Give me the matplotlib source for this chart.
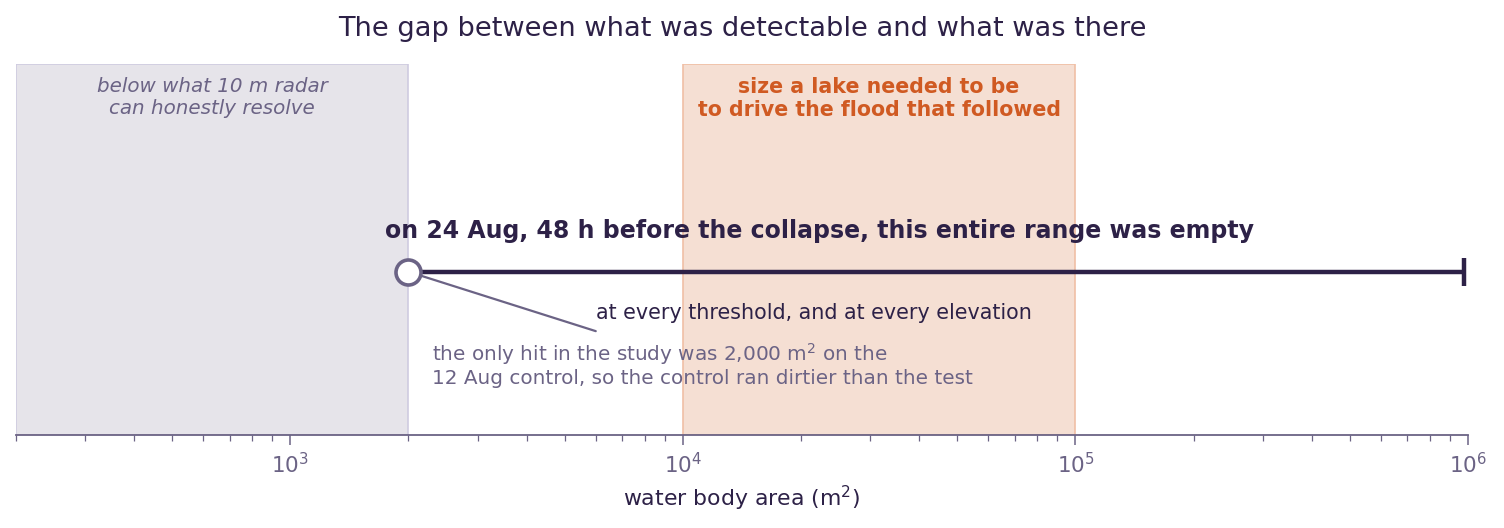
import numpy as np
import matplotlib
matplotlib.use('Agg')
import matplotlib.pyplot as plt

# data
x_limits = [200, 1e6]
below_radar = [200, 2000]          # what 10 m radar can resolve
lake_needed = [1e4, 1e5]           # size needed to drive the flood
empty_range = [2000, 9.8e5]        # empty on 24 Aug
only_hit = 2000                    # 12 Aug control hit

dark = '#2d2147'
grey = '#6b6385'
orange = '#d05a22'

fig = plt.figure(figsize=(15.04, 5.28), dpi=100)
ax = fig.add_axes([0.0106, 0.176, 0.9654, 0.703])
ax.set_xscale('log')
ax.set_xlim(x_limits)
ax.set_ylim(0, 1)

# shaded bands
ax.axvspan(below_radar[0], below_radar[1], facecolor='#e6e4ea', edgecolor='#cfcbe0', lw=1.2, zorder=0)
ax.axvspan(lake_needed[0], lake_needed[1], facecolor='#f5dfd3', edgecolor='#f0bfa5', lw=1.2, zorder=0)

ax.text(np.sqrt(below_radar[0] * below_radar[1]), 0.965, 'below what 10 m radar\ncan honestly resolve',
        ha='center', va='top', fontsize=14.3, style='italic', color=grey, linespacing=1.2)
ax.text(np.sqrt(lake_needed[0] * lake_needed[1]), 0.965, 'size a lake needed to be\nto drive the flood that followed',
        ha='center', va='top', fontsize=14.8, fontweight='bold', color=orange, linespacing=1.2)

# empty range line
y0 = 0.44
ax.plot(empty_range, [y0, y0], color=dark, lw=3.2, solid_capstyle='butt', zorder=3)
ax.plot([empty_range[1]], [y0], marker='|', color=dark, markersize=20, markeredgewidth=3.2, zorder=3)
ax.plot([only_hit], [y0], marker='o', markersize=18, markerfacecolor='white',
        markeredgecolor=grey, markeredgewidth=2.6, zorder=5)

ax.text(22300, 0.55,
        'on 24 Aug, 48 h before the collapse, this entire range was empty',
        ha='center', va='center', fontsize=17, fontweight='bold', color=dark)

ax.annotate('', xy=(only_hit, y0), xytext=(6000, 0.28),
            arrowprops=dict(arrowstyle='-', color=grey, lw=1.6, shrinkA=0, shrinkB=9), zorder=4)
ax.text(6000, 0.33, 'at every threshold, and at every elevation',
        ha='left', va='center', fontsize=14.9, color=dark)
ax.text(2300, 0.19, 'the only hit in the study was 2,000 m$^2$ on the\n12 Aug control, so the control ran dirtier than the test',
        ha='left', va='center', fontsize=14.4, color=grey, linespacing=1.15)

# axes styling
for s in ['top', 'right', 'left']:
    ax.spines[s].set_visible(False)
ax.spines['bottom'].set_color(grey)
ax.spines['bottom'].set_linewidth(1.3)
ax.set_yticks([])
ax.tick_params(axis='x', which='major', colors=grey, labelsize=15.5, length=7, width=1.1, pad=5)
ax.tick_params(axis='x', which='minor', colors=grey, length=4, width=0.9)
ax.set_xlabel('water body area (m$^2$)', fontsize=15.8, color=dark, labelpad=5)

ax.set_title('The gap between what was detectable and what was there', fontsize=19.6, color=dark, pad=20)

fig.savefig('out.png', dpi=100)
